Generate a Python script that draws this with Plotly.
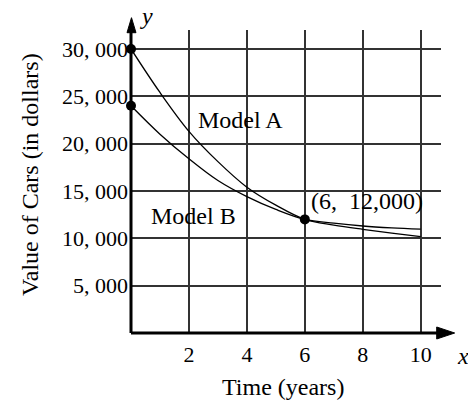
import plotly.graph_objects as go

# ---- data ----
years = [0, 1, 2, 3, 4, 5, 6, 7, 8, 9, 10]
model_a = [30000, 25400, 21300, 18100, 15400, 13500, 12000, 11400, 10950, 10550, 10180]
model_b = [24000, 21000, 18400, 16100, 14400, 13050, 12000, 11600, 11300, 11100, 10960]
point_x = [0, 0, 6]
point_y = [30000, 24000, 12000]
x_ticks = [2, 4, 6, 8, 10]
y_ticks = [5000, 10000, 15000, 20000, 25000, 30000]
y_tick_text = ["5, 000", "10, 000", "15, 000", "20, 000", "25, 000", "30, 000"]

FONT = "Liberation Serif"

fig = go.Figure()
fig.add_trace(go.Scatter(x=years, y=model_a, mode="lines", line=dict(color="black", width=1.3, shape="spline"),
                         showlegend=False, hoverinfo="skip"))
fig.add_trace(go.Scatter(x=years, y=model_b, mode="lines", line=dict(color="black", width=1.3, shape="spline"),
                         showlegend=False, hoverinfo="skip"))
fig.add_trace(go.Scatter(x=point_x, y=point_y, mode="markers", marker=dict(color="black", size=10),
                         cliponaxis=False, showlegend=False, hoverinfo="skip"))

def note(**kw):
    kw.setdefault("showarrow", False)
    kw.setdefault("xanchor", "center")
    kw.setdefault("yanchor", "middle")
    kw.setdefault("font", dict(family=FONT, size=24, color="black"))
    fig.add_annotation(**kw)

# text labels
note(x=3.78, y=22500, text="Model A")
note(x=2.15, y=12370, text="Model B")
note(x=8.13, y=13950, text="(6,\u00a0 12,000)")

# axis titles / letters
note(xref="paper", yref="paper", x=-0.3255, y=0.522, text="Value of Cars (in dollars)", textangle=-90)
note(xref="paper", yref="paper", x=0.49, y=-0.178, text="Time (years)")
note(xref="paper", yref="paper", x=0.0516, y=1.0472, text="<i>y</i>")
note(xref="paper", yref="paper", x=1.07, y=-0.076, text="<i>x</i>")

# axes with arrows
fig.add_shape(type="line", xref="paper", yref="paper", x0=0, y0=0, x1=0.99, y1=0, line=dict(color="black", width=3))
fig.add_shape(type="line", xref="paper", yref="paper", x0=0, y0=0, x1=0, y1=0.995, line=dict(color="black", width=3))
fig.add_shape(type="path", xref="paper", yref="paper", path="M 1.0441 0 L 0.9861 0.0198 L 0.9861 -0.0198 Z",
              fillcolor="black", line=dict(color="black", width=1))
fig.add_shape(type="path", xref="paper", yref="paper", path="M 0.0016 1.0406 L -0.0129 0.9911 L 0.0161 0.9911 Z",
              fillcolor="black", line=dict(color="black", width=1))

fig.update_xaxes(range=[0, 10.7], tickvals=x_ticks, showgrid=True, gridcolor="#333", gridwidth=1.5,
                 zeroline=False, showline=False, ticks="", ticklabelstandoff=6, automargin=False,
                 tickfont=dict(family=FONT, size=22, color="black"))
fig.update_yaxes(range=[0, 32000], tickvals=y_ticks, ticktext=y_tick_text, showgrid=True, gridcolor="#333",
                 gridwidth=1.5, zeroline=False, showline=False, ticks="", ticklabelstandoff=2, automargin=False,
                 tickfont=dict(family=FONT, size=22, color="black"))

fig.update_layout(width=468, height=402, margin=dict(l=131, r=26.7, t=30.3, b=69, autoexpand=False),
                  plot_bgcolor="white", paper_bgcolor="white")

# remove the default page margin so the figure fills the window exactly
fig.write_html("out.html", config={"displayModeBar": False},
               post_script="document.body.style.margin='0';document.body.style.overflow='hidden';")
